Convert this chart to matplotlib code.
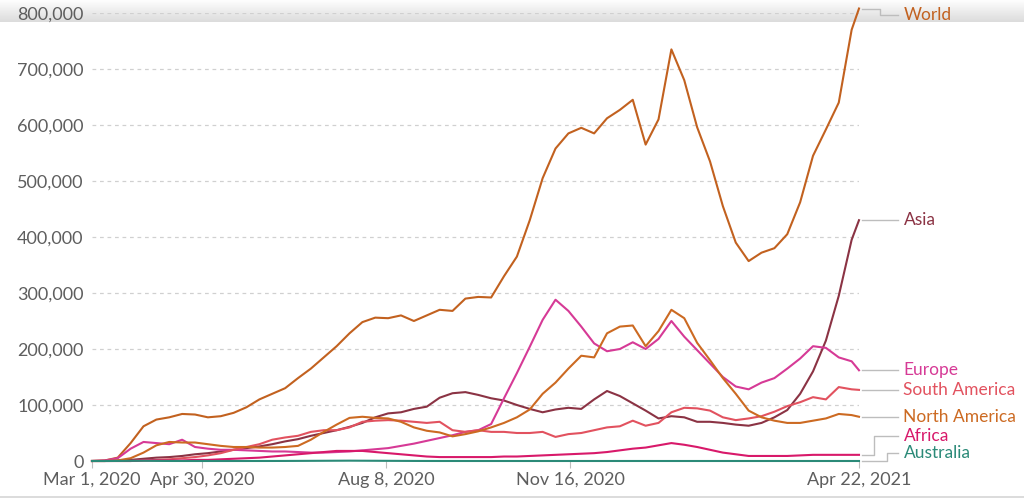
import numpy as np
import pandas as pd
import matplotlib
matplotlib.use("Agg")
import matplotlib.pyplot as plt
import matplotlib.dates as mdates
from matplotlib.lines import Line2D
from matplotlib.ticker import FuncFormatter

plt.rcParams['font.family'] = ['Lato', 'DejaVu Sans']

# weekly samples from Mar 1, 2020, plus the last day (Apr 22, 2021)
dates = list(pd.date_range('2020-03-01', periods=60, freq='7D')) + [pd.Timestamp('2021-04-22')]

# daily new cases, thousands
world = [0, 1, 6, 32, 62, 74, 78, 84, 83, 78, 80, 86, 96, 110, 120, 130, 148, 165, 185, 205,
         228, 248, 256, 255, 260, 250, 260, 270, 268, 290, 293, 292, 330, 365, 430, 505, 558, 585, 595, 585,
         612, 627, 645, 565, 610, 735, 680, 596, 535, 455, 390, 357, 372, 380, 405, 462, 545, 592, 640, 770,
         808]
asia = [0, 0, 1, 2, 4, 6, 7, 9, 12, 14, 17, 20, 23, 26, 30, 35, 39, 45, 50, 55,
        61, 68, 78, 85, 87, 93, 97, 113, 121, 123, 118, 112, 108, 100, 93, 87, 92, 95, 93, 110,
        125, 116, 103, 90, 76, 80, 78, 70, 70, 68, 65, 63, 68, 78, 91, 120, 160, 215, 295, 395,
        430]
europe = [0, 1, 5, 22, 34, 32, 30, 38, 25, 22, 20, 20, 19, 18, 17, 17, 16, 15, 15, 16,
          17, 19, 21, 23, 27, 31, 36, 41, 46, 52, 55, 66, 112, 157, 204, 252, 288, 268, 240, 210,
          196, 200, 212, 200, 218, 250, 222, 198, 174, 150, 133, 128, 140, 148, 165, 183, 205, 202, 185, 178,
          162]
south_america = [0, 0, 0, 0, 1, 2, 3, 5, 7, 10, 14, 20, 25, 30, 38, 42, 45, 52, 55, 55,
                 60, 70, 72, 73, 72, 70, 68, 70, 55, 52, 55, 52, 52, 50, 50, 52, 43, 48, 50, 55,
                 60, 62, 72, 63, 68, 87, 95, 94, 90, 78, 73, 76, 80, 88, 98, 105, 114, 110, 132, 128,
                 127]
north_america = [0, 0, 1, 5, 15, 28, 34, 33, 33, 30, 27, 25, 25, 24, 24, 25, 27, 38, 52, 65,
                 77, 79, 77, 76, 70, 60, 54, 51, 44, 48, 53, 60, 68, 78, 92, 120, 140, 165, 188, 185,
                 228, 240, 242, 205, 232, 270, 255, 211, 180, 148, 120, 90, 78, 72, 68, 68, 72, 76, 84, 82,
                 79]
africa = [0, 0, 0, 0, 1, 1, 1, 1, 2, 2, 3, 4, 5, 6, 8, 10, 12, 14, 16, 18,
          18, 18, 16, 14, 12, 10, 8, 7, 7, 7, 7, 7, 8, 8, 9, 10, 11, 12, 13, 14,
          16, 19, 22, 24, 28, 32, 29, 25, 20, 15, 12, 9, 9, 9, 9, 10, 11, 11, 11, 11,
          11]
australia = [0, 0, 0.1, 0.3, 0.4, 0.2, 0.05, 0.02, 0.01, 0.01, 0.01, 0.01, 0.01, 0.02, 0.05, 0.1, 0.2, 0.3, 0.4, 0.5,
             0.6, 0.5, 0.4, 0.3, 0.2, 0.1, 0.05, 0.02, 0.02, 0.01, 0.01, 0.01, 0.01, 0.01, 0.01, 0.01, 0.01, 0.01, 0.01, 0.01,
             0.01, 0.02, 0.02, 0.02, 0.01, 0.01, 0.01, 0.01, 0.01, 0.01, 0.01, 0.01, 0.01, 0.01, 0.01, 0.01, 0.01, 0.01, 0.01, 0.01,
             0.01]

series = [
    ('World', world, '#c2611f', 796000),
    ('Asia', asia, '#8b3344', 432000),
    ('Europe', europe, '#d63a96', 161000),
    ('South America', south_america, '#e2525f', 127000),
    ('North America', north_america, '#cc6a22', 80000),
    ('Africa', africa, '#d8196a', 45000),
    ('Australia', australia, '#2b8a78', 14000),
]

fig = plt.figure(figsize=(10.24, 5.0), dpi=100)

# grey shadow at the top of the frame
shade = fig.add_axes([0, 0.955, 1, 0.045], zorder=0)
grad = np.linspace(0.86, 1.0, 50).reshape(-1, 1)
shade.imshow(np.flipud(grad), aspect='auto', cmap='gray', vmin=0, vmax=1, extent=[0, 1, 0, 1])
shade.axis('off')
fig.add_artist(Line2D([0, 1], [0.007, 0.007], color='#d6d6d6', lw=1.2))

ax = fig.add_axes([92 / 1024, 39 / 500, 767 / 1024, 448 / 500], zorder=1)
ax.patch.set_alpha(0)

for name, vals, color, label_y in series:
    ax.plot(dates, np.array(vals) * 1000, color=color, lw=1.5, clip_on=False, zorder=3)

ax.set_xlim(pd.Timestamp('2020-03-01'), pd.Timestamp('2021-04-22'))
ax.set_ylim(0, 800000)

ax.set_yticks(np.arange(0, 800001, 100000))
ax.yaxis.set_major_formatter(FuncFormatter(lambda v, p: f'{int(v):,}'))
ax.grid(axis='y', color='#d0d0d0', ls=(0, (3, 3)), lw=0.9)
ax.set_axisbelow(True)

xt = [pd.Timestamp(d) for d in ['2020-03-01', '2020-04-30', '2020-08-08', '2020-11-16', '2021-04-22']]
ax.set_xticks(xt)
ax.set_xticklabels([f"{d.strftime('%b')} {d.day}, {d.year}" for d in xt])

for s in ax.spines.values():
    s.set_visible(False)
ax.tick_params(axis='y', length=0, pad=6, labelsize=13, labelcolor='#5e5e5e')
ax.tick_params(axis='x', length=5, width=0.8, color='#bdbdbd', pad=3, labelsize=13, labelcolor='#5e5e5e')

# end labels with connector lines
tr = ax.get_yaxis_transform()
for name, vals, color, label_y in series:
    end = vals[-1] * 1000
    if abs(end - label_y) > 4000:
        xs = [1.004, 1.02 if name != 'Australia' else 1.036, 1.02 if name != 'Australia' else 1.036, 1.051]
        if name == 'World':
            xs = [1.004, 1.027, 1.027, 1.051]
        ys = [end, end, label_y, label_y]
    else:
        xs = [1.004, 1.051]
        ys = [end, end]
        label_y = end
    ax.plot(xs, ys, color='#bdbdbd', lw=1.0, transform=tr, clip_on=False)
    ax.text(1.058, label_y, name, color=color, fontsize=12.5, va='center', ha='left', transform=tr)

fig.savefig('out.png', dpi=100)
